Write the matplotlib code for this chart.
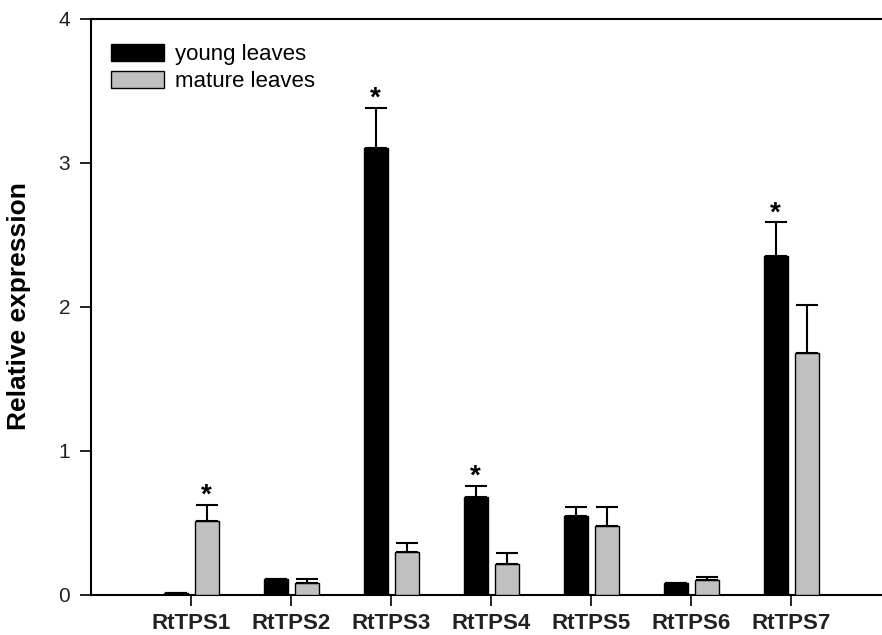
import matplotlib
matplotlib.use("Agg")
import matplotlib.pyplot as plt
from matplotlib.patches import Patch

plt.rcParams['font.family'] = ['Liberation Sans', 'DejaVu Sans']

categories = ["RtTPS1", "RtTPS2", "RtTPS3", "RtTPS4", "RtTPS5", "RtTPS6", "RtTPS7"]
young = [0.01, 0.11, 3.10, 0.68, 0.545, 0.08, 2.35]
young_err = [0.0, 0.0, 0.28, 0.075, 0.065, 0.0, 0.235]
mature = [0.51, 0.08, 0.295, 0.215, 0.475, 0.10, 1.68]
mature_err = [0.115, 0.025, 0.06, 0.07, 0.13, 0.02, 0.33]
young_sig = [False, False, True, True, False, False, True]
mature_sig = [True, False, False, False, False, False, False]
series_names = ["young leaves", "mature leaves"]
yticks = [0, 1, 2, 3, 4]

W, H = 882, 635
fig = plt.figure(figsize=(W / 100, H / 100), dpi=100)
left, right, top, bottom = 91, 891, 18.5, 594.5
ax = fig.add_axes([left / W, 1 - bottom / H, (right - left) / W, (bottom - top) / H])

x = list(range(1, len(categories) + 1))
bw = 0.24
off = 0.155
xy = [v - off for v in x]
xm = [v + off for v in x]

err_kw = dict(ecolor="black", elinewidth=1.5, capsize=8, capthick=1.5)
ax.bar(xy, young, width=bw, color="black", edgecolor="black", linewidth=1,
       yerr=[[0] * len(young), young_err], error_kw=err_kw, zorder=3)
ax.bar(xm, mature, width=bw, color="#c0c0c0", edgecolor="black", linewidth=1,
       yerr=[[0] * len(mature), mature_err], error_kw=err_kw, zorder=3)

for xs, vals, errs, sig in [(xy, young, young_err, young_sig), (xm, mature, mature_err, mature_sig)]:
    for xi, v, e, s in zip(xs, vals, errs, sig):
        if s:
            ax.annotate("*", (xi, v + e), xytext=(0, -3), textcoords="offset points",
                        ha="center", va="bottom", fontsize=20, fontweight="bold")

ax.set_xlim(0, 8)
ax.set_ylim(0, 4)
ax.set_xticks(x)
ax.set_xticklabels(categories, fontsize=16, fontweight="bold", color="#222222")
ax.set_yticks(yticks)
ax.set_yticklabels([str(t) for t in yticks], fontsize=15, color="#222222")
ax.tick_params(axis="both", direction="out", length=8, width=1.2)
ax.tick_params(axis="x", pad=5)
ax.tick_params(axis="y", pad=7)
for sp in ax.spines.values():
    sp.set_linewidth(1.5)

ax.set_ylabel("Relative expression", fontsize=19, fontweight="bold", labelpad=20)

handles = [Patch(facecolor="black", edgecolor="black", linewidth=1),
           Patch(facecolor="#c0c0c0", edgecolor="black", linewidth=1)]
ax.legend(handles, series_names, loc="upper left", bbox_to_anchor=(0.0, 0.99),
          frameon=False, fontsize=16, handlelength=2.4, handleheight=0.8,
          handletextpad=0.5, labelspacing=0.25)

fig.savefig("out.png", dpi=100)
